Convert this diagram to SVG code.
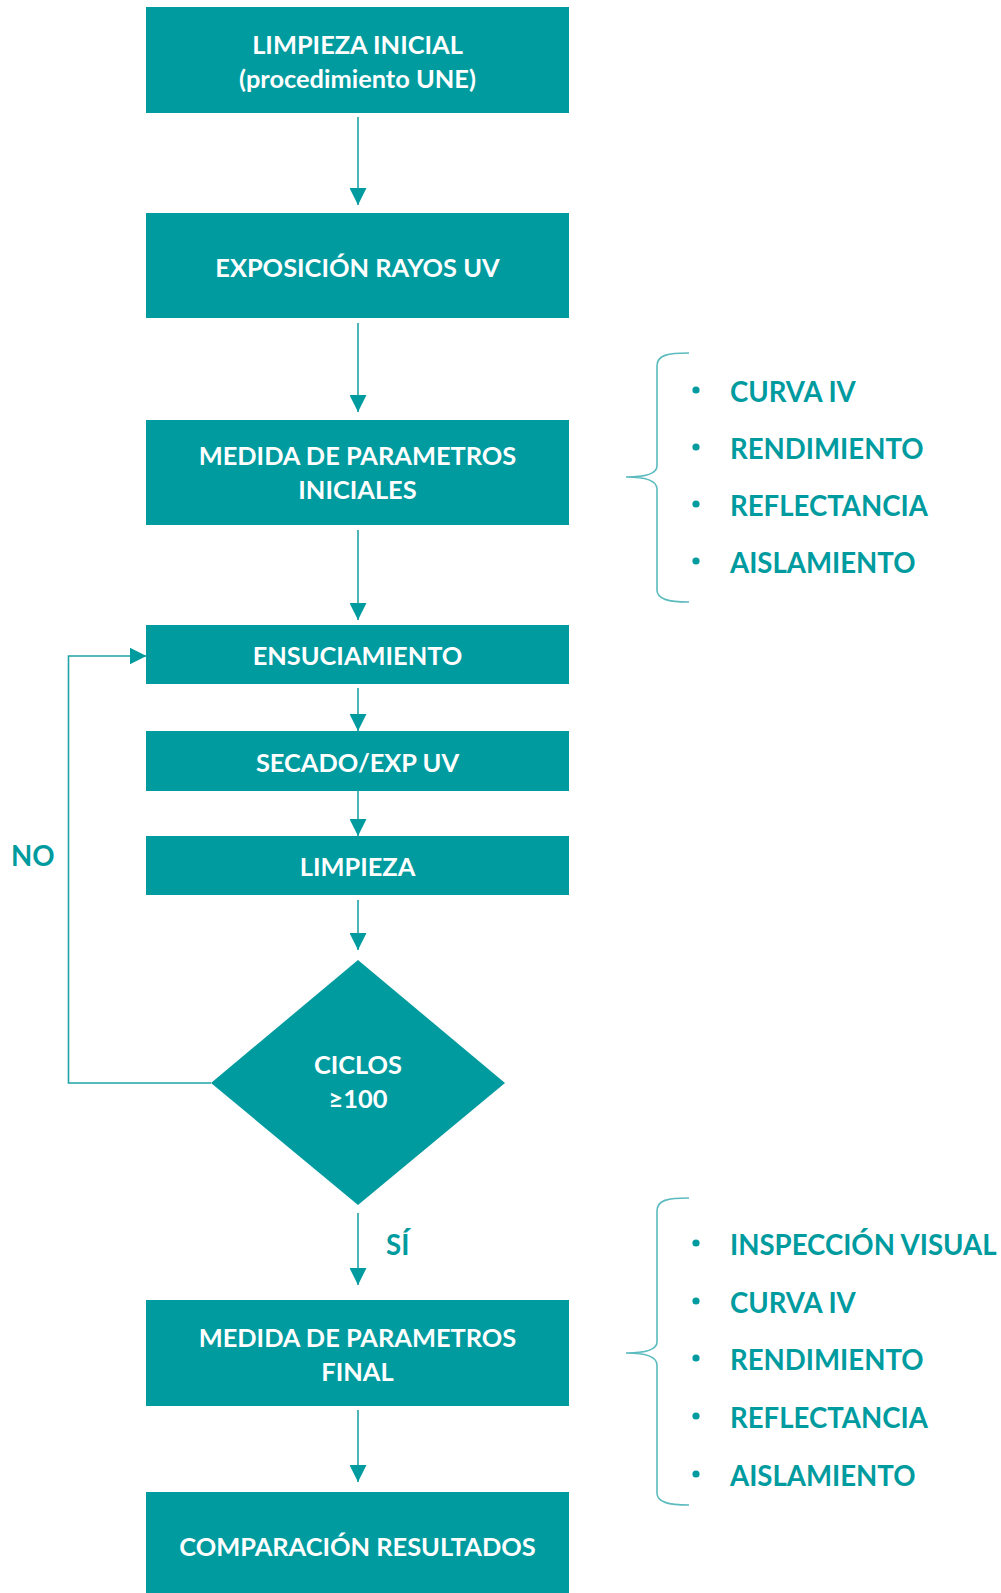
<svg xmlns="http://www.w3.org/2000/svg" width="1001" height="1593" viewBox="0 0 1001 1593">
<defs>
<style>
.box{fill:#009B9F;}
.bt{font-family:Lato,"Open Sans","Liberation Sans",sans-serif;font-weight:700;font-size:25.4px;fill:#FFFFFF;text-anchor:middle;}
.lt{font-family:Lato,"Open Sans","Liberation Sans",sans-serif;font-weight:700;font-size:27.6px;fill:#009B9F;}
.conn{fill:none;stroke:#1FA3A7;stroke-width:1.6;}
.brace{fill:none;stroke:#5BBBBE;stroke-width:1.6;}
.dot{fill:#009B9F;}
</style>
<marker id="ah" viewBox="0 0 10 10" refX="10" refY="5" markerWidth="17" markerHeight="17" markerUnits="userSpaceOnUse" orient="auto">
<path d="M0,0 L10,5 L0,10 Z" fill="#009B9F"/>
</marker>
</defs>
<rect width="1001" height="1593" fill="#FFFFFF"/>

<g id="connectors">
<line class="conn" x1="358" y1="117" x2="358" y2="205" marker-end="url(#ah)"/>
<line class="conn" x1="358" y1="323" x2="358" y2="412" marker-end="url(#ah)"/>
<line class="conn" x1="358" y1="530" x2="358" y2="620" marker-end="url(#ah)"/>
<line class="conn" x1="358" y1="688" x2="358" y2="731" marker-end="url(#ah)"/>
<line class="conn" x1="358" y1="791" x2="358" y2="836" marker-end="url(#ah)"/>
<line class="conn" x1="358" y1="900" x2="358" y2="950" marker-end="url(#ah)"/>
<line class="conn" x1="358" y1="1213" x2="358" y2="1285" marker-end="url(#ah)"/>
<line class="conn" x1="358" y1="1410" x2="358" y2="1482" marker-end="url(#ah)"/>
<polyline class="conn" points="211,1083 68.5,1083 68.5,656 146.5,656" marker-end="url(#ah)"/>
<text class="lt" x="11" y="866">NO</text>
<text class="lt" x="386" y="1255">SÍ</text>
</g>

<g id="n1">
<rect class="box" x="146" y="7" width="423" height="106"/>
<text class="bt" x="357.5" y="54">LIMPIEZA INICIAL</text>
<text class="bt" x="357.5" y="88">(procedimiento UNE)</text>
</g>
<g id="n2">
<rect class="box" x="146" y="213" width="423" height="105"/>
<text class="bt" x="357.5" y="277">EXPOSICIÓN RAYOS UV</text>
</g>
<g id="n3">
<rect class="box" x="146" y="420" width="423" height="105"/>
<text class="bt" x="357.5" y="465">MEDIDA DE PARAMETROS</text>
<text class="bt" x="357.5" y="499">INICIALES</text>
</g>
<g id="n4">
<rect class="box" x="146" y="625" width="423" height="59"/>
<text class="bt" x="357.5" y="665">ENSUCIAMIENTO</text>
</g>
<g id="n5">
<rect class="box" x="146" y="731" width="423" height="60"/>
<text class="bt" x="357.5" y="772">SECADO/EXP UV</text>
</g>
<g id="n6">
<rect class="box" x="146" y="836" width="423" height="59"/>
<text class="bt" x="357.5" y="876">LIMPIEZA</text>
</g>
<g id="n7">
<polygon class="box" points="358,960 505,1083 358,1205 211,1083"/>
<text class="bt" x="358" y="1074">CICLOS</text>
<text class="bt" x="358" y="1108">≥100</text>
</g>
<g id="n8">
<rect class="box" x="146" y="1300" width="423" height="106"/>
<text class="bt" x="357.5" y="1347">MEDIDA DE PARAMETROS</text>
<text class="bt" x="357.5" y="1381">FINAL</text>
</g>
<g id="n9">
<rect class="box" x="146" y="1492" width="423" height="101"/>
<text class="bt" x="357.5" y="1556">COMPARACIÓN RESULTADOS</text>
</g>

<g id="list1">
<path class="brace" d="M689,353 C668,353 657,355 657,366 L657,466 C657,473 646,477 626,477 C646,477 657,481 657,489 L657,590 C657,599 668,602 689,602"/>
<circle class="dot" cx="696" cy="390" r="3.6"/>
<circle class="dot" cx="696" cy="447" r="3.6"/>
<circle class="dot" cx="696" cy="504" r="3.6"/>
<circle class="dot" cx="696" cy="561" r="3.6"/>
<text class="lt" x="730" y="402">CURVA IV</text>
<text class="lt" x="730" y="459">RENDIMIENTO</text>
<text class="lt" x="730" y="516">REFLECTANCIA</text>
<text class="lt" x="730" y="573">AISLAMIENTO</text>
</g>

<g id="list2">
<path class="brace" d="M689,1198 C668,1198 657,1200 657,1211 L657,1342 C657,1349 646,1353 626,1353 C646,1353 657,1357 657,1365 L657,1493 C657,1502 668,1505 689,1505"/>
<circle class="dot" cx="696" cy="1243" r="3.6"/>
<circle class="dot" cx="696" cy="1301" r="3.6"/>
<circle class="dot" cx="696" cy="1358" r="3.6"/>
<circle class="dot" cx="696" cy="1416" r="3.6"/>
<circle class="dot" cx="696" cy="1474" r="3.6"/>
<text class="lt" x="730" y="1255">INSPECCIÓN VISUAL</text>
<text class="lt" x="730" y="1313">CURVA IV</text>
<text class="lt" x="730" y="1370">RENDIMIENTO</text>
<text class="lt" x="730" y="1428">REFLECTANCIA</text>
<text class="lt" x="730" y="1486">AISLAMIENTO</text>
</g>
</svg>
